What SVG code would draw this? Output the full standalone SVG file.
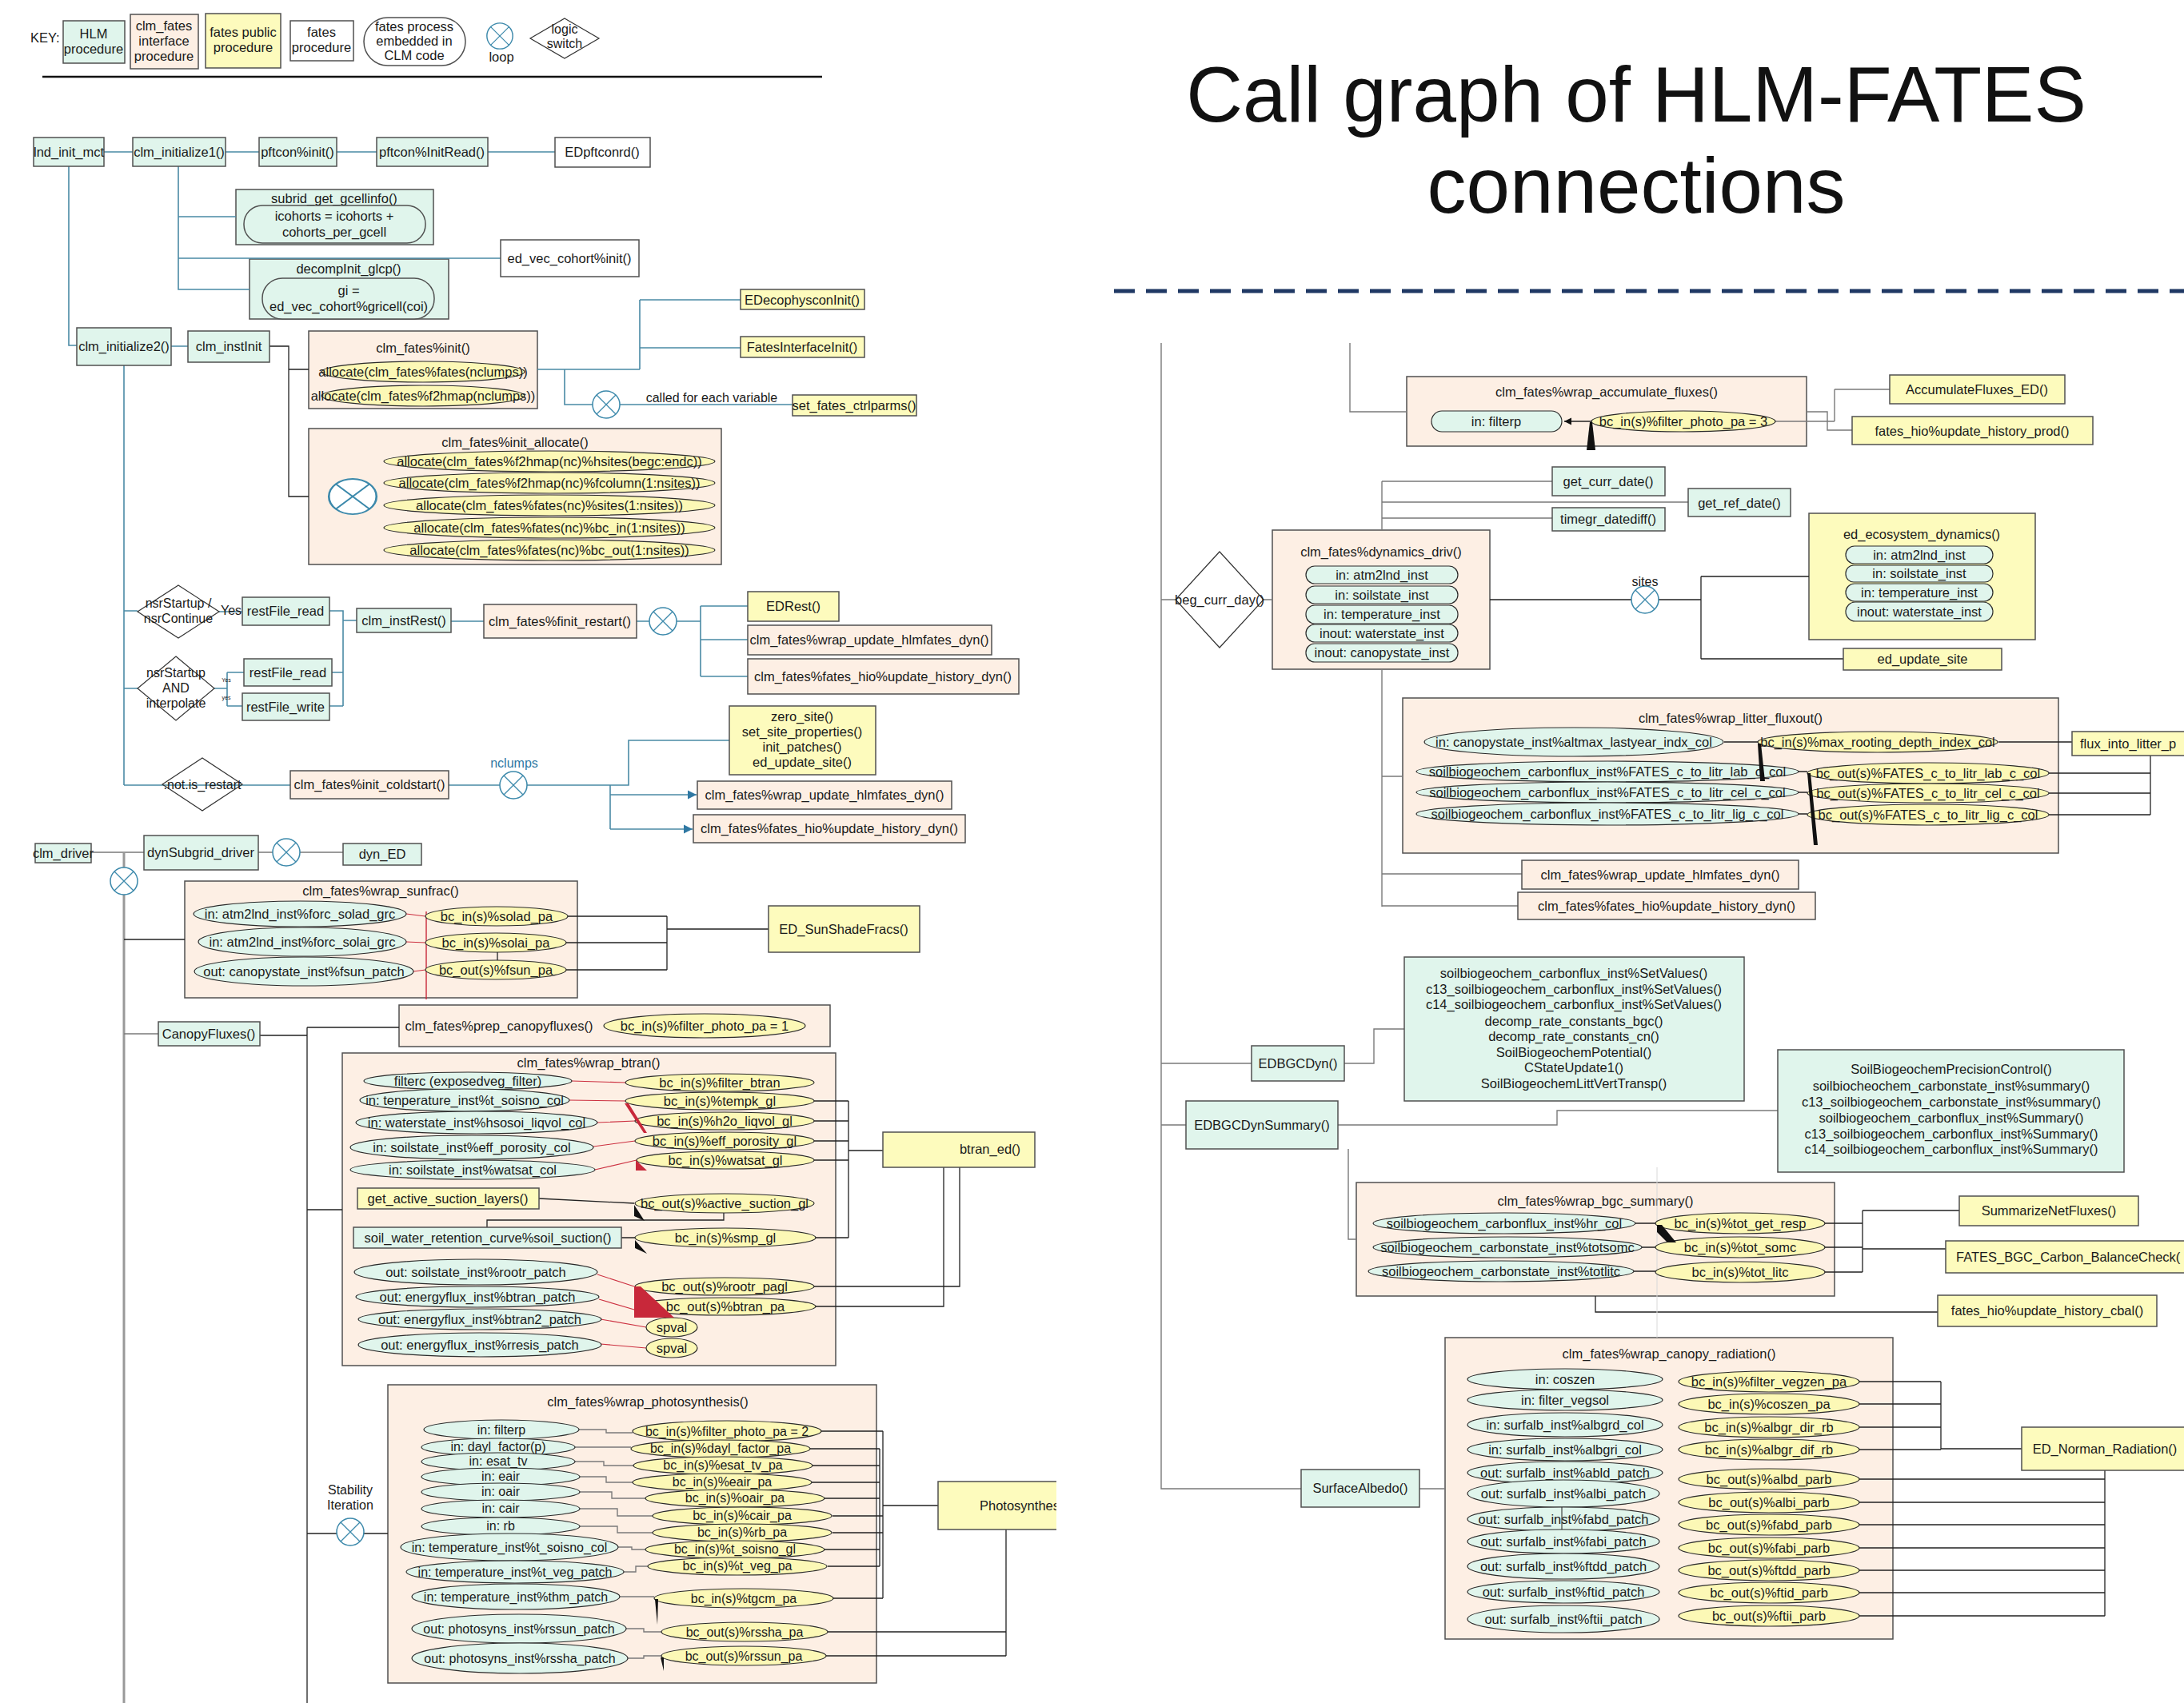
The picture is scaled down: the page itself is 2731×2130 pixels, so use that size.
<svg xmlns="http://www.w3.org/2000/svg" width="2731" height="2130" viewBox="0 0 2731 2130">
<defs>
<style>
text{font-family:"Liberation Sans",Arial,sans-serif;font-size:16.5px;fill:#1a1a1a;text-anchor:middle}
.s{text-anchor:start}
.sm{font-size:16px}
.h{fill:#e0f5ec;stroke:#505050;stroke-width:1.5}
.i{fill:#fdefe4;stroke:#505050;stroke-width:1.5}
.p{fill:#fdfbbd;stroke:#505050;stroke-width:1.5}
.w{fill:#fff;stroke:#505050;stroke-width:1.5}
.em{fill:#e0f5ec;stroke:#2a2a2a;stroke-width:1.2}
.ey{fill:#fcf8b6;stroke:#2a2a2a;stroke-width:1.2}
.dm{fill:none;stroke:#333;stroke-width:1.2}
.t{fill:none;stroke:#4a8aa5;stroke-width:1.6}
.k{fill:none;stroke:#222;stroke-width:1.3}
.g{fill:none;stroke:#7a7a7a;stroke-width:1.4}
.r{fill:none;stroke:#cc3040;stroke-width:1.1}
.rf{fill:#c8283a}
.bf{fill:#111}
</style>
<g id="loop"><circle r="17" fill="#fff" stroke="#3c89ab" stroke-width="1.5"/><path d="M-12,-12L12,12M12,-12L-12,12" stroke="#3c89ab" stroke-width="1.3" fill="none"/></g>
<marker id="ab" viewBox="0 0 10 10" refX="10" refY="5" markerWidth="7" markerHeight="7" orient="auto"><path d="M0,0L10,5L0,10z" fill="#2f78a3"/></marker>
<marker id="ak" viewBox="0 0 10 10" refX="10" refY="5" markerWidth="7" markerHeight="7" orient="auto"><path d="M0,0L10,5L0,10z" fill="#111"/></marker>
<clipPath id="clipL"><rect x="0" y="0" width="1321" height="2130"/></clipPath>
</defs>
<rect x="0" y="0" width="2731" height="2130" fill="#fff"/>

<!-- KEY -->
<g id="key">
<text class="s" x="38" y="53">KEY:</text>
<g id="key-hlm"><rect class="h" x="79" y="26" width="77" height="53"/><text x="117" y="48">HLM</text><text x="117" y="67">procedure</text></g>
<g id="key-itf"><rect class="i" x="163" y="18" width="85" height="68"/><text x="205" y="38">clm_fates</text><text x="205" y="57">interface</text><text x="205" y="76">procedure</text></g>
<g id="key-pub"><rect class="p" x="257" y="17" width="94" height="68"/><text x="304" y="46">fates public</text><text x="304" y="65">procedure</text></g>
<g id="key-fp"><rect class="w" x="363" y="26" width="79" height="50"/><text x="402" y="46">fates</text><text x="402" y="65">procedure</text></g>
<g id="key-emb"><rect class="w" x="455" y="22" width="127" height="60" rx="30"/><text x="518" y="39">fates process</text><text x="518" y="57">embedded in</text><text x="518" y="75">CLM code</text></g>
<g id="key-loop"><use href="#loop" transform="translate(625,45) scale(0.95)"/><text x="627" y="77">loop</text></g>
<g id="key-switch"><path class="dm" d="M706,23L749,48L706,73L663,48Z"/><text x="706" y="42" class="sm">logic</text><text x="706" y="60" class="sm">switch</text></g>
<line x1="53" y1="96" x2="1028" y2="96" stroke="#111" stroke-width="2.5"/>
</g>

<!-- Title -->
<g id="title">
<text x="2046" y="152" style="font-size:98px;fill:#111">Call graph of HLM-FATES</text>
<text x="2046" y="266" style="font-size:98px;fill:#111">connections</text>
<line x1="1393" y1="364" x2="2731" y2="364" stroke="#1f3864" stroke-width="5" stroke-dasharray="26,14"/>
</g>

<!-- containers -->
<g id="subrid_get_gcellinfo"><rect class="h" x="295" y="237" width="247" height="69"/><text x="418" y="254">subrid_get_gcellinfo()</text></g>
<g id="decompInit_glcp"><rect class="h" x="312" y="324" width="249" height="75"/><text x="436" y="342">decompInit_glcp()</text></g>
<g id="clm_fates_init"><rect class="i" x="386" y="414" width="286" height="97"/><text x="529" y="441">clm_fates%init()</text></g>
<g id="clm_fates_init_allocate"><rect class="i" x="386" y="536" width="516" height="170"/><text x="644" y="559">clm_fates%init_allocate()</text></g>
<g id="wrap_sunfrac"><rect class="i" x="231" y="1102" width="491" height="146"/><text x="476" y="1120">clm_fates%wrap_sunfrac()</text></g>
<g id="prep_canopyfluxes"><rect class="i" x="499" y="1257" width="539" height="52"/><text x="624" y="1289">clm_fates%prep_canopyfluxes()</text></g>
<g id="wrap_btran"><rect class="i" x="428" y="1317" width="617" height="391"/><text x="736" y="1335">clm_fates%wrap_btran()</text></g>
<g id="wrap_photosynthesis"><rect class="i" x="485" y="1732" width="611" height="373"/><text x="810" y="1759">clm_fates%wrap_photosynthesis()</text></g>
<g id="wrap_accumulate_fluxes"><rect class="i" x="1759" y="471" width="500" height="87"/><text x="2009" y="496">clm_fates%wrap_accumulate_fluxes()</text></g>
<g id="dynamics_driv"><rect class="i" x="1591" y="663" width="272" height="174"/><text x="1727" y="696">clm_fates%dynamics_driv()</text></g>
<g id="ed_ecosystem_dynamics"><rect class="p" x="2262" y="642" width="283" height="158"/><text x="2403" y="674">ed_ecosystem_dynamics()</text></g>
<g id="wrap_litter_fluxout"><rect class="i" x="1754" y="873" width="820" height="194"/><text x="2164" y="904">clm_fates%wrap_litter_fluxout()</text></g>
<g id="wrap_bgc_summary"><rect class="i" x="1696" y="1479" width="598" height="142"/><text x="1995" y="1508">clm_fates%wrap_bgc_summary()</text></g>
<g id="wrap_canopy_radiation"><rect class="i" x="1807" y="1673" width="560" height="377"/><text x="2087" y="1699">clm_fates%wrap_canopy_radiation()</text></g>

<!-- connectors -->
<g id="connectors">
<path class="t" d="M130,190H166M282,190H324M421,190H471M610,190H694M86,208V432H96M223,208V362H312M223,271H295M223,323H626M214,433H235"/>
<path class="k" d="M337,433H361V621H386M361,462H386"/>
<path class="t" d="M672,462H800M800,375V462M800,375H926M800,435H926M706,462V506H991"/>
<path class="t" d="M155,457V982"/>
<path class="t" d="M155,764H172M274,765H303M155,861H172M267,861H284M284,841V883M284,841H305M284,883H303M412,764H429V883M415,841H429M412,883H429M429,776H446M564,777H605M796,777H876M876,758V846M876,758H935M876,800H935M876,846H935"/>
<path class="t" d="M155,982H363M561,982H786V926H912M763,982V1037"/>
<path class="t" d="M763,994H871" marker-end="url(#ab)"/>
<path class="t" d="M763,1037H866" marker-end="url(#ab)"/>
<path class="g" d="M114,1066H180M323,1066H429"/>
<path d="M155,1066V2130" fill="none" stroke="#999" stroke-width="3"/>
<path class="k" d="M155,1175H231"/>
<path class="r" d="M508,1143L532,1146M508,1178L532,1179M517,1215L532,1213"/>
<path d="M533,1140V1250" stroke="#c8283a" stroke-width="1.4" fill="none"/>
<path class="k" d="M622,1190V1202M710,1146H834M708,1179H834M708,1213H834M834,1146V1213M834,1162H961"/>
<path class="g" d="M155,1293H198"/>
<path class="k" d="M325,1295H384M384,1285V2130M384,1285H499M384,1513H428"/>
<path class="r" d="M715,1352L782,1354M712,1376L782,1377M747,1404L794,1402M742,1434L794,1427M744,1463L796,1451M747,1594L793,1609M749,1625L800,1640M751,1650L808,1660M751,1681L808,1686"/>
<path class="k" d="M674,1499L793,1505M905,1517V1526H609V1535M777,1548H794M1018,1377H1061M1018,1402H1061M1018,1427H1061M1018,1451H1061M1020,1548H1061M1061,1377V1548M1061,1439H1104M1018,1609H1200V1460M1020,1634H1180V1460"/>
<path class="k" d="M384,1918H485"/>
<path class="g" d="M724,1788H758V1792H791M719,1810H789M719,1828H755V1833H792M725,1847H758V1854H791M725,1866H765V1874H807M725,1887H772V1896H816M725,1909H772V1917H816M773,1935H790V1938H807M780,1966H795V1959H810M775,1997H818M783,2037H805V2041H827M785,2074H805V2071H827"/>
<path class="k" d="M1027,1790H1104M1013,1812H1100M1016,1833H1100M1015,1854H1100M1031,1874H1100M1041,1896H1104M1041,1917H1104M1031,1938H1100M1035,1959H1100M1042,1999H1104M1100,1812V1959M1104,1790V1999M1104,1883H1173M1258,1913V2071M1035,2041H1258M1033,2071H1258"/>
<path class="g" d="M1452,429V1862H1627M1688,429V515H1759M1775,1862H1807"/>
<path class="k" d="M1990,527H1956" marker-end="url(#ak)"/>
<path class="g" d="M2220,527H2294M2259,515H2285V538H2316M2294,487V527M2294,487H2363"/>
<path class="g" d="M1728,602V663M1728,837V1134M1728,602H1941M1728,628H2111M1728,648H1941M1452,750H1470M1579,750H1591"/>
<path class="k" d="M1863,750H2127M2127,721V824M2127,721H2262M2127,824H2305"/>
<path class="g" d="M1728,971H1754M1728,1093H1903M1728,1133H1898"/>
<path class="k" d="M2156,928H2198M2248,965H2260M2249,991H2260M2248,1018H2260M2499,928H2591M2689,945V1019M2562,967H2689M2562,992H2689M2562,1019H2689"/>
<path class="g" d="M1452,1330H1565M1681,1330H1718V1287H1756M1452,1407H1483M1673,1407H1947V1389H2223M1686,1437V1550H1696"/>
<path class="k" d="M2045,1530H2070M2053,1560H2070M2043,1590H2070M2281,1530H2329M2281,1560H2329M2281,1591H2329M2329,1514V1591M2329,1514H2450M2329,1562H2433M1995,1621V1641H2423"/>
<path d="M2072,1460V1673" stroke="#d8d8d8" stroke-width="1" fill="none"/>
<path class="k" d="M2325,1728H2427M2325,1756H2427M2325,1785H2427M2325,1813H2427M2427,1728V1813M2427,1812H2528M2632,1839V2021M2325,1850H2632M2325,1879H2632M2325,1907H2632M2325,1936H2632M2325,1964H2632M2325,1992H2632M2325,2021H2632"/>
</g>

<!-- left nodes -->
<g id="lnd_init_mct"><rect class="h" x="42" y="172" width="88" height="36"/><text x="86" y="196">lnd_init_mct</text></g>
<g id="clm_initialize1"><rect class="h" x="166" y="172" width="116" height="36"/><text x="224" y="196">clm_initialize1()</text></g>
<g id="pftcon_init"><rect class="h" x="324" y="172" width="97" height="36"/><text x="372" y="196">pftcon%init()</text></g>
<g id="pftcon_InitRead"><rect class="h" x="471" y="172" width="139" height="36"/><text x="540" y="196">pftcon%InitRead()</text></g>
<g id="EDpftconrd"><rect class="w" x="694" y="172" width="119" height="37"/><text x="753" y="196">EDpftconrd()</text></g>
<g id="icohorts"><rect class="h" x="305" y="257" width="227" height="47" rx="23"/><text x="418" y="276">icohorts = icohorts +</text><text x="418" y="296">cohorts_per_gcell</text></g>
<g id="ed_vec_cohort_init"><rect class="w" x="626" y="300" width="173" height="46"/><text x="712" y="329">ed_vec_cohort%init()</text></g>
<g id="gi"><rect class="h" x="328" y="348" width="215" height="51" rx="25"/><text x="436" y="369">gi =</text><text x="436" y="389">ed_vec_cohort%gricell(coi)</text></g>
<g id="clm_initialize2"><rect class="h" x="96" y="410" width="118" height="47"/><text x="155" y="439">clm_initialize2()</text></g>
<g id="clm_instInit"><rect class="h" x="235" y="414" width="102" height="39"/><text x="286" y="439">clm_instInit</text></g>
<g id="alloc_fates"><ellipse class="ey" cx="529" cy="465" rx="127" ry="13"/><text x="529" y="471">allocate(clm_fates%fates(nclumps))</text></g>
<g id="alloc_f2hmap"><ellipse class="ey" cx="529" cy="495" rx="127" ry="13"/><text x="529" y="501">allocate(clm_fates%f2hmap(nclumps))</text></g>
<g id="EDecophysconInit"><rect class="p" x="926" y="362" width="155" height="25"/><text x="1003" y="381">EDecophysconInit()</text></g>
<g id="FatesInterfaceInit"><rect class="p" x="926" y="421" width="155" height="26"/><text x="1003" y="440">FatesInterfaceInit()</text></g>
<g id="loop_ctrlparms"><use href="#loop" x="758" y="506"/><text x="890" y="503" class="sm">called for each variable</text></g>
<g id="set_fates_ctrlparms"><rect class="p" x="991" y="494" width="155" height="26"/><text x="1068" y="513">set_fates_ctrlparms()</text></g>
<g id="loop_alloc"><use href="#loop" transform="translate(441,621) scale(1.75,1.3)"/></g>
<g id="alloc1"><ellipse class="ey" cx="687" cy="577" rx="207" ry="13"/><text x="687" y="583">allocate(clm_fates%f2hmap(nc)%hsites(begc:endc))</text></g>
<g id="alloc2"><ellipse class="ey" cx="687" cy="604" rx="207" ry="13"/><text x="687" y="610">allocate(clm_fates%f2hmap(nc)%fcolumn(1:nsites))</text></g>
<g id="alloc3"><ellipse class="ey" cx="687" cy="632" rx="207" ry="13"/><text x="687" y="638">allocate(clm_fates%fates(nc)%sites(1:nsites))</text></g>
<g id="alloc4"><ellipse class="ey" cx="687" cy="660" rx="207" ry="13"/><text x="687" y="666">allocate(clm_fates%fates(nc)%bc_in(1:nsites))</text></g>
<g id="alloc5"><ellipse class="ey" cx="687" cy="688" rx="207" ry="13"/><text x="687" y="694">allocate(clm_fates%fates(nc)%bc_out(1:nsites))</text></g>

<g id="sw_nsrStartup"><path class="dm" d="M223,732L274,765L223,798L172,765Z"/><text x="223" y="760" class="sm">nsrStartup /</text><text x="223" y="779" class="sm">nsrContinue</text><text x="289" y="769" class="sm">Yes</text></g>
<g id="restFile_read1"><rect class="h" x="303" y="747" width="109" height="35"/><text x="357" y="770">restFile_read</text></g>
<g id="sw_interpolate"><path class="dm" d="M220,821L268,861L220,901L172,861Z"/><text x="220" y="847" class="sm">nsrStartup</text><text x="220" y="866" class="sm">AND</text><text x="220" y="885" class="sm">interpolate</text><text x="283" y="853" style="font-size:7px">Yes</text><text x="283" y="875" style="font-size:7px">yes</text></g>
<g id="restFile_read2"><rect class="h" x="305" y="824" width="110" height="34"/><text x="360" y="847">restFile_read</text></g>
<g id="restFile_write"><rect class="h" x="303" y="867" width="109" height="34"/><text x="357" y="890">restFile_write</text></g>
<g id="clm_instRest"><rect class="h" x="446" y="761" width="118" height="30"/><text x="505" y="782">clm_instRest()</text></g>
<g id="finit_restart"><rect class="i" x="605" y="756" width="191" height="42"/><text x="700" y="783">clm_fates%finit_restart()</text></g>
<g id="loop_restart"><use href="#loop" x="829" y="777"/></g>
<g id="EDRest"><rect class="p" x="935" y="740" width="114" height="37"/><text x="992" y="764">EDRest()</text></g>
<g id="wrap_update_hlmfates_dyn1"><rect class="i" x="935" y="782" width="305" height="37"/><text x="1087" y="806">clm_fates%wrap_update_hlmfates_dyn()</text></g>
<g id="update_history_dyn1"><rect class="i" x="935" y="824" width="339" height="44"/><text x="1104" y="852">clm_fates%fates_hio%update_history_dyn()</text></g>
<g id="sw_not_restart"><path class="dm" d="M253,948L303,981L253,1014L203,981Z"/><text x="253" y="987" class="sm">.not.is_restart</text></g>
<g id="init_coldstart"><rect class="i" x="363" y="964" width="198" height="35"/><text x="462" y="987">clm_fates%init_coldstart()</text></g>
<g id="loop_nclumps"><use href="#loop" x="642" y="982"/><text x="643" y="960" class="sm" style="fill:#2f78a3">nclumps</text></g>
<g id="zero_site"><rect class="p" x="912" y="883" width="183" height="86"/><text x="1003" y="902">zero_site()</text><text x="1003" y="921">set_site_properties()</text><text x="1003" y="940">init_patches()</text><text x="1003" y="959">ed_update_site()</text></g>
<g id="wrap_update_hlmfates_dyn2"><rect class="i" x="872" y="977" width="318" height="35"/><text x="1031" y="1000">clm_fates%wrap_update_hlmfates_dyn()</text></g>
<g id="update_history_dyn2"><rect class="i" x="867" y="1019" width="340" height="35"/><text x="1037" y="1042">clm_fates%fates_hio%update_history_dyn()</text></g>

<g id="clm_driver"><rect class="h" x="44" y="1055" width="70" height="24"/><text x="79" y="1073">clm_driver</text></g>
<g id="dynSubgrid_driver"><rect class="h" x="180" y="1045" width="143" height="43"/><text x="251" y="1072">dynSubgrid_driver</text></g>
<g id="loop_dyn"><use href="#loop" x="358" y="1066"/></g>
<g id="dyn_ED"><rect class="h" x="429" y="1055" width="98" height="27"/><text x="478" y="1074">dyn_ED</text></g>
<g id="loop_driver"><use href="#loop" x="155" y="1102"/></g>

<g id="sf_in1"><ellipse class="em" cx="375" cy="1143" rx="133" ry="16"/><text x="375" y="1149">in: atm2lnd_inst%forc_solad_grc</text></g>
<g id="sf_in2"><ellipse class="em" cx="378" cy="1178" rx="130" ry="18"/><text x="378" y="1184">in: atm2lnd_inst%forc_solai_grc</text></g>
<g id="sf_out"><ellipse class="em" cx="380" cy="1215" rx="137" ry="18"/><text x="380" y="1221">out: canopystate_inst%fsun_patch</text></g>
<g id="sf_bc1"><ellipse class="ey" cx="621" cy="1146" rx="89" ry="12"/><text x="621" y="1152">bc_in(s)%solad_pa</text></g>
<g id="sf_bc2"><ellipse class="ey" cx="620" cy="1179" rx="88" ry="12"/><text x="620" y="1185">bc_in(s)%solai_pa</text></g>
<g id="sf_bc3"><ellipse class="ey" cx="620" cy="1213" rx="88" ry="12"/><text x="620" y="1219">bc_out(s)%fsun_pa</text></g>
<g id="ED_SunShadeFracs"><rect class="p" x="961" y="1133" width="189" height="58"/><text x="1055" y="1168">ED_SunShadeFracs()</text></g>

<g id="CanopyFluxes"><rect class="h" x="198" y="1278" width="127" height="30"/><text x="261" y="1299">CanopyFluxes()</text></g>
<g id="filter_photo_1"><ellipse class="ey" cx="881" cy="1283" rx="126" ry="15"/><text x="881" y="1289">bc_in(s)%filter_photo_pa = 1</text></g>

<!-- btran -->
<g id="bt_l1"><ellipse class="em" cx="585" cy="1352" rx="130" ry="11"/><text x="585" y="1358">filterc (exposedveg_filter)</text></g>
<g id="bt_l2"><ellipse class="em" cx="581" cy="1376" rx="131" ry="14"/><text x="581" y="1382">in: tenperature_inst%t_soisno_col</text></g>
<g id="bt_l3"><ellipse class="em" cx="596" cy="1404" rx="151" ry="14"/><text x="596" y="1410">in: waterstate_inst%hsosoi_liqvol_col</text></g>
<g id="bt_l4"><ellipse class="em" cx="590" cy="1435" rx="152" ry="15"/><text x="590" y="1441">in: soilstate_inst%eff_porosity_col</text></g>
<g id="bt_l5"><ellipse class="em" cx="591" cy="1463" rx="153" ry="12"/><text x="591" y="1469">in: soilstate_inst%watsat_col</text></g>
<g id="bt_r1"><ellipse class="ey" cx="900" cy="1354" rx="118" ry="11"/><text x="900" y="1360">bc_in(s)%filter_btran</text></g>
<g id="bt_r2"><ellipse class="ey" cx="900" cy="1377" rx="118" ry="11"/><text x="900" y="1383">bc_in(s)%tempk_gl</text></g>
<g id="bt_r3"><ellipse class="ey" cx="906" cy="1402" rx="112" ry="11"/><text x="906" y="1408">bc_in(s)%h2o_liqvol_gl</text></g>
<g id="bt_r4"><ellipse class="ey" cx="906" cy="1427" rx="112" ry="11"/><text x="906" y="1433">bc_in(s)%eff_porosity_gl</text></g>
<g id="bt_r5"><ellipse class="ey" cx="907" cy="1451" rx="111" ry="11"/><text x="907" y="1457">bc_in(s)%watsat_gl</text></g>
<g id="get_active_suction_layers"><rect class="p" x="447" y="1486" width="227" height="26"/><text x="560" y="1505">get_active_suction_layers()</text></g>
<g id="bt_r6"><ellipse class="ey" cx="906" cy="1505" rx="112" ry="12"/><text x="906" y="1511">bc_out(s)%active_suction_gl</text></g>
<g id="soil_suction"><rect class="h" x="442" y="1535" width="335" height="26"/><text x="610" y="1554">soil_water_retention_curve%soil_suction()</text></g>
<g id="bt_r7"><ellipse class="ey" cx="907" cy="1548" rx="113" ry="12"/><text x="907" y="1554">bc_in(s)%smp_gl</text></g>
<g id="bt_l6"><ellipse class="em" cx="595" cy="1591" rx="152" ry="16"/><text x="595" y="1597">out: soilstate_inst%rootr_patch</text></g>
<g id="bt_l7"><ellipse class="em" cx="597" cy="1622" rx="152" ry="13"/><text x="597" y="1628">out: energyflux_inst%btran_patch</text></g>
<g id="bt_l8"><ellipse class="em" cx="600" cy="1650" rx="152" ry="13"/><text x="600" y="1656">out: energyflux_inst%btran2_patch</text></g>
<g id="bt_l9"><ellipse class="em" cx="600" cy="1682" rx="152" ry="15"/><text x="600" y="1688">out: energyflux_inst%rresis_patch</text></g>
<g id="bt_r8"><ellipse class="ey" cx="906" cy="1609" rx="112" ry="11"/><text x="906" y="1615">bc_out(s)%rootr_pagl</text></g>
<g id="bt_r9"><ellipse class="ey" cx="907" cy="1634" rx="113" ry="11"/><text x="907" y="1640">bc_out(s)%btran_pa</text></g>
<g id="bt_spval1"><ellipse class="ey" cx="840" cy="1660" rx="32" ry="12"/><text x="840" y="1666">spval</text></g>
<g id="bt_spval2"><ellipse class="ey" cx="840" cy="1686" rx="32" ry="12"/><text x="840" y="1692">spval</text></g>
<g id="bt_heads"><path class="rf" d="M781,1380L786,1380L809,1417L805,1417ZM795,1451L795,1464L809,1464ZM793,1609L801,1609L843,1648L793,1648Z"/><path class="bf" d="M793,1507L793,1521L806,1527ZM794,1551L794,1561L809,1568Z"/></g>
<g id="btran_ed"><rect class="p" x="1104" y="1416" width="190" height="44"/><text x="1238" y="1443">btran_ed()</text></g>

<!-- photosynthesis -->
<g id="loop_stability"><use href="#loop" x="438" y="1916"/><text x="438" y="1869" class="sm">Stability</text><text x="438" y="1888" class="sm">Iteration</text></g>
<g id="ps_l1"><ellipse class="em" cx="627" cy="1788" rx="97" ry="12"/><text x="627" y="1794" class="sm">in: filterp</text></g>
<g id="ps_l2"><ellipse class="em" cx="623" cy="1810" rx="96" ry="11"/><text x="623" y="1815" class="sm">in: dayl_factor(p)</text></g>
<g id="ps_l3"><ellipse class="em" cx="623" cy="1828" rx="96" ry="11"/><text x="623" y="1833" class="sm">in: esat_tv</text></g>
<g id="ps_l4"><ellipse class="em" cx="626" cy="1847" rx="99" ry="11"/><text x="626" y="1852" class="sm">in: eair</text></g>
<g id="ps_l5"><ellipse class="em" cx="626" cy="1866" rx="99" ry="11"/><text x="626" y="1871" class="sm">in: oair</text></g>
<g id="ps_l6"><ellipse class="em" cx="626" cy="1887" rx="99" ry="11"/><text x="626" y="1892" class="sm">in: cair</text></g>
<g id="ps_l7"><ellipse class="em" cx="626" cy="1909" rx="99" ry="11"/><text x="626" y="1914" class="sm">in: rb</text></g>
<g id="ps_l8"><ellipse class="em" cx="637" cy="1935" rx="136" ry="17"/><text x="637" y="1941" class="sm">in: temperature_inst%t_soisno_col</text></g>
<g id="ps_l9"><ellipse class="em" cx="644" cy="1966" rx="136" ry="14"/><text x="644" y="1972" class="sm">in:  temperature_inst%t_veg_patch</text></g>
<g id="ps_l10"><ellipse class="em" cx="645" cy="1997" rx="130" ry="16"/><text x="645" y="2003" class="sm">in:  temperature_inst%thm_patch</text></g>
<g id="ps_l11"><ellipse class="em" cx="649" cy="2037" rx="134" ry="18"/><text x="649" y="2043" class="sm">out: photosyns_inst%rssun_patch</text></g>
<g id="ps_l12"><ellipse class="em" cx="650" cy="2074" rx="135" ry="19"/><text x="650" y="2080" class="sm">out: photosyns_inst%rssha_patch</text></g>
<g id="ps_r1"><ellipse class="ey" cx="909" cy="1790" rx="118" ry="13"/><text x="909" y="1796" class="sm">bc_in(s)%filter_photo_pa = 2</text></g>
<g id="ps_r2"><ellipse class="ey" cx="901" cy="1812" rx="112" ry="11"/><text x="901" y="1817" class="sm">bc_in(s)%dayl_factor_pa</text></g>
<g id="ps_r3"><ellipse class="ey" cx="904" cy="1833" rx="112" ry="11"/><text x="904" y="1838" class="sm">bc_in(s)%esat_tv_pa</text></g>
<g id="ps_r4"><ellipse class="ey" cx="903" cy="1854" rx="112" ry="11"/><text x="903" y="1859" class="sm">bc_in(s)%eair_pa</text></g>
<g id="ps_r5"><ellipse class="ey" cx="919" cy="1874" rx="112" ry="11"/><text x="919" y="1879" class="sm">bc_in(s)%oair_pa</text></g>
<g id="ps_r6"><ellipse class="ey" cx="928" cy="1896" rx="112" ry="11"/><text x="928" y="1901" class="sm">bc_in(s)%cair_pa</text></g>
<g id="ps_r7"><ellipse class="ey" cx="928" cy="1917" rx="112" ry="11"/><text x="928" y="1922" class="sm">bc_in(s)%rb_pa</text></g>
<g id="ps_r8"><ellipse class="ey" cx="919" cy="1938" rx="112" ry="11"/><text x="919" y="1943" class="sm">bc_in(s)%t_soisno_gl</text></g>
<g id="ps_r9"><ellipse class="ey" cx="922" cy="1959" rx="112" ry="11"/><text x="922" y="1964" class="sm">bc_in(s)%t_veg_pa</text></g>
<g id="ps_r10"><ellipse class="ey" cx="930" cy="1999" rx="112" ry="12"/><text x="930" y="2005" class="sm">bc_in(s)%tgcm_pa</text></g>
<g id="ps_r11"><ellipse class="ey" cx="931" cy="2041" rx="104" ry="12"/><text x="931" y="2047" class="sm">bc_out(s)%rssha_pa</text></g>
<g id="ps_r12"><ellipse class="ey" cx="930" cy="2071" rx="103" ry="12"/><text x="930" y="2077" class="sm">bc_out(s)%rssun_pa</text></g>
<g id="ps_heads"><path class="bf" d="M819,2000L823,2000L822,2032ZM826,2073L830,2073L830,2090Z"/></g>
<g id="Photosynthesis" clip-path="url(#clipL)"><rect class="p" x="1173" y="1853" width="180" height="60"/><text x="1225" y="1889" class="s">Photosynthes</text></g>

<!-- right nodes -->
<g id="in_filterp"><rect class="em" x="1790" y="514" width="163" height="26" rx="13"/><text x="1871" y="533">in: filterp</text></g>
<g id="filter_photo_3"><ellipse class="ey" cx="2105" cy="527" rx="115" ry="13"/><text x="2105" y="533">bc_in(s)%filter_photo_pa = 3</text></g>
<g id="acc_head"><path class="bf" d="M1988,528L1991,528L1995,563L1984,563Z"/></g>
<g id="AccumulateFluxes_ED"><rect class="p" x="2363" y="469" width="219" height="36"/><text x="2472" y="493">AccumulateFluxes_ED()</text></g>
<g id="update_history_prod"><rect class="p" x="2316" y="521" width="301" height="35"/><text x="2466" y="545">fates_hio%update_history_prod()</text></g>
<g id="get_curr_date"><rect class="h" x="1941" y="584" width="141" height="36"/><text x="2011" y="608">get_curr_date()</text></g>
<g id="get_ref_date"><rect class="h" x="2111" y="611" width="128" height="35"/><text x="2175" y="635">get_ref_date()</text></g>
<g id="timegr_datediff"><rect class="h" x="1941" y="635" width="141" height="29"/><text x="2011" y="655">timegr_datediff()</text></g>
<g id="sw_beg_curr_day"><path class="dm" d="M1525,690L1580,750L1525,810L1470,750Z"/><text x="1525" y="756">beg_curr_day()</text></g>
<g id="dd1"><rect class="em" x="1633" y="708" width="190" height="22" rx="11"/><text x="1728" y="725">in: atm2lnd_inst</text></g>
<g id="dd2"><rect class="em" x="1633" y="733" width="190" height="22" rx="11"/><text x="1728" y="750">in: soilstate_inst</text></g>
<g id="dd3"><rect class="em" x="1633" y="757" width="190" height="23" rx="11"/><text x="1728" y="774">in: temperature_inst</text></g>
<g id="dd4"><rect class="em" x="1633" y="781" width="190" height="22" rx="11"/><text x="1728" y="798">inout: waterstate_inst</text></g>
<g id="dd5"><rect class="em" x="1633" y="805" width="190" height="23" rx="11"/><text x="1728" y="822">inout: canopystate_inst</text></g>
<g id="loop_sites"><use href="#loop" x="2057" y="750"/><text x="2057" y="733" class="sm">sites</text></g>
<g id="ee1"><rect class="em" x="2308" y="683" width="184" height="22" rx="11"/><text x="2400" y="700">in: atm2lnd_inst</text></g>
<g id="ee2"><rect class="em" x="2308" y="707" width="184" height="21" rx="10"/><text x="2400" y="723">in: soilstate_inst</text></g>
<g id="ee3"><rect class="em" x="2308" y="730" width="184" height="22" rx="11"/><text x="2400" y="747">in: temperature_inst</text></g>
<g id="ee4"><rect class="em" x="2308" y="753" width="184" height="24" rx="12"/><text x="2400" y="771">inout: waterstate_inst</text></g>
<g id="ed_update_site"><rect class="p" x="2305" y="811" width="198" height="27"/><text x="2404" y="830">ed_update_site</text></g>

<g id="lf_in"><ellipse class="em" cx="1968" cy="928" rx="187" ry="18"/><text x="1968" y="934">in: canopystate_inst%altmax_lastyear_indx_col</text></g>
<g id="lf_bc"><ellipse class="ey" cx="2348" cy="928" rx="150" ry="13"/><text x="2348" y="934">bc_in(s)%max_rooting_depth_index_col</text></g>
<g id="lf_l1"><ellipse class="em" cx="2010" cy="965" rx="239" ry="13"/><text x="2010" y="971">soilbiogeochem_carbonflux_inst%FATES_c_to_litr_lab_c_col</text></g>
<g id="lf_l2"><ellipse class="em" cx="2010" cy="991" rx="239" ry="13"/><text x="2010" y="997">soilbiogeochem_carbonflux_inst%FATES_c_to_litr_cel_c_col</text></g>
<g id="lf_l3"><ellipse class="em" cx="2010" cy="1018" rx="239" ry="14"/><text x="2010" y="1024">soilbiogeochem_carbonflux_inst%FATES_c_to_litr_lig_c_col</text></g>
<g id="lf_r1"><ellipse class="ey" cx="2411" cy="967" rx="151" ry="13"/><text x="2411" y="973">bc_out(s)%FATES_c_to_litr_lab_c_col</text></g>
<g id="lf_r2"><ellipse class="ey" cx="2411" cy="992" rx="151" ry="12"/><text x="2411" y="998">bc_out(s)%FATES_c_to_litr_cel_c_col</text></g>
<g id="lf_r3"><ellipse class="ey" cx="2411" cy="1019" rx="151" ry="13"/><text x="2411" y="1025">bc_out(s)%FATES_c_to_litr_lig_c_col</text></g>
<g id="lf_heads"><path class="bf" d="M2198,930L2202,930L2207,977L2201,977ZM2260,967L2264,967L2273,1057L2268,1057Z"/></g>
<g id="flux_into_litter"><rect class="p" x="2591" y="915" width="160" height="30"/><text x="2601" y="936" class="s">flux_into_litter_p</text></g>
<g id="wrap_update_hlmfates_dyn3"><rect class="i" x="1903" y="1076" width="346" height="36"/><text x="2076" y="1100">clm_fates%wrap_update_hlmfates_dyn()</text></g>
<g id="update_history_dyn3"><rect class="i" x="1898" y="1116" width="372" height="34"/><text x="2084" y="1139">clm_fates%fates_hio%update_history_dyn()</text></g>

<g id="EDBGCDyn"><rect class="h" x="1565" y="1308" width="116" height="44"/><text x="1623" y="1336">EDBGCDyn()</text></g>
<g id="bgc_calls"><rect class="h" x="1756" y="1197" width="425" height="180"/>
<text x="1968" y="1223">soilbiogeochem_carbonflux_inst%SetValues()</text>
<text x="1968" y="1243">c13_soilbiogeochem_carbonflux_inst%SetValues()</text>
<text x="1968" y="1262">c14_soilbiogeochem_carbonflux_inst%SetValues()</text>
<text x="1968" y="1283">decomp_rate_constants_bgc()</text>
<text x="1968" y="1302">decomp_rate_constants_cn()</text>
<text x="1968" y="1322">SoilBiogeochemPotential()</text>
<text x="1968" y="1341">CStateUpdate1()</text>
<text x="1968" y="1361">SoilBiogeochemLittVertTransp()</text></g>
<g id="EDBGCDynSummary"><rect class="h" x="1483" y="1377" width="190" height="60"/><text x="1578" y="1413">EDBGCDynSummary()</text></g>
<g id="summary_calls"><rect class="h" x="2223" y="1313" width="433" height="153"/>
<text x="2440" y="1343">SoilBiogeochemPrecisionControl()</text>
<text x="2440" y="1364">soilbiocheochem_carbonstate_inst%summary()</text>
<text x="2440" y="1384">c13_soilbiogeochem_carbonstate_inst%summary()</text>
<text x="2440" y="1404">soilbiogeochem_carbonflux_inst%Summary()</text>
<text x="2440" y="1424">c13_soilbiogeochem_carbonflux_inst%Summary()</text>
<text x="2440" y="1443">c14_soilbiogeochem_carbonflux_inst%Summary()</text></g>
<g id="bs_l1"><ellipse class="em" cx="1881" cy="1530" rx="164" ry="13"/><text x="1881" y="1536">soilbiogeochem_carbonflux_inst%hr_col</text></g>
<g id="bs_l2"><ellipse class="em" cx="1885" cy="1560" rx="168" ry="13"/><text x="1885" y="1566">soilbiogeochem_carbonstate_inst%totsomc</text></g>
<g id="bs_l3"><ellipse class="em" cx="1877" cy="1590" rx="166" ry="13"/><text x="1877" y="1596">soilbiogeochem_carbonstate_inst%totlitc</text></g>
<g id="bs_r1"><ellipse class="ey" cx="2176" cy="1530" rx="106" ry="13"/><text x="2176" y="1536">bc_in(s)%tot_get_resp</text></g>
<g id="bs_r2"><ellipse class="ey" cx="2176" cy="1560" rx="106" ry="13"/><text x="2176" y="1566">bc_in(s)%tot_somc</text></g>
<g id="bs_r3"><ellipse class="ey" cx="2176" cy="1591" rx="106" ry="13"/><text x="2176" y="1597">bc_in(s)%tot_litc</text></g>
<g id="bs_head"><path class="bf" d="M2072,1532L2078,1532L2096,1554L2085,1554L2072,1541Z"/></g>
<g id="SummarizeNetFluxes"><rect class="p" x="2450" y="1496" width="224" height="37"/><text x="2562" y="1520">SummarizeNetFluxes()</text></g>
<g id="FATES_BGC_Carbon_BalanceCheck"><rect class="p" x="2433" y="1552" width="310" height="40"/><text x="2446" y="1578" class="s">FATES_BGC_Carbon_BalanceCheck(</text></g>
<g id="update_history_cbal"><rect class="p" x="2423" y="1620" width="274" height="39"/><text x="2560" y="1645">fates_hio%update_history_cbal()</text></g>

<g id="SurfaceAlbedo"><rect class="h" x="1627" y="1838" width="148" height="47"/><text x="1701" y="1867">SurfaceAlbedo()</text></g>
<g id="cr_l1"><ellipse class="em" cx="1957" cy="1725" rx="122" ry="13"/><text x="1957" y="1731">in: coszen</text></g>
<g id="cr_l2"><ellipse class="em" cx="1957" cy="1751" rx="122" ry="13"/><text x="1957" y="1757">in: filter_vegsol</text></g>
<g id="cr_l3"><ellipse class="em" cx="1957" cy="1782" rx="122" ry="15"/><text x="1957" y="1788">in: surfalb_inst%albgrd_col</text></g>
<g id="cr_l4"><ellipse class="em" cx="1957" cy="1813" rx="122" ry="14"/><text x="1957" y="1819">in: surfalb_inst%albgri_col</text></g>
<g id="cr_l5"><ellipse class="em" cx="1957" cy="1842" rx="122" ry="14"/><text x="1957" y="1848">out: surfalb_inst%abld_patch</text></g>
<g id="cr_l6"><ellipse class="em" cx="1955" cy="1868" rx="120" ry="17"/><text x="1955" y="1874">out: surfalb_inst%albi_patch</text></g>
<g id="cr_l7"><ellipse class="em" cx="1955" cy="1900" rx="120" ry="15"/><text x="1955" y="1906">out: surfalb_inst%fabd_patch</text><line x1="1953" y1="1885" x2="1953" y2="1913" stroke="#222" stroke-width="1"/></g>
<g id="cr_l8"><ellipse class="em" cx="1955" cy="1928" rx="120" ry="15"/><text x="1955" y="1934">out: surfalb_inst%fabi_patch</text></g>
<g id="cr_l9"><ellipse class="em" cx="1955" cy="1959" rx="120" ry="16"/><text x="1955" y="1965">out: surfalb_inst%ftdd_patch</text></g>
<g id="cr_l10"><ellipse class="em" cx="1955" cy="1991" rx="120" ry="14"/><text x="1955" y="1997">out: surfalb_inst%ftid_patch</text></g>
<g id="cr_l11"><ellipse class="em" cx="1955" cy="2025" rx="120" ry="17"/><text x="1955" y="2031">out: surfalb_inst%ftii_patch</text></g>
<g id="cr_r1"><ellipse class="ey" cx="2212" cy="1728" rx="113" ry="13"/><text x="2212" y="1734">bc_in(s)%filter_vegzen_pa</text></g>
<g id="cr_r2"><ellipse class="ey" cx="2212" cy="1756" rx="113" ry="13"/><text x="2212" y="1762">bc_in(s)%coszen_pa</text></g>
<g id="cr_r3"><ellipse class="ey" cx="2212" cy="1785" rx="113" ry="13"/><text x="2212" y="1791">bc_in(s)%albgr_dir_rb</text></g>
<g id="cr_r4"><ellipse class="ey" cx="2212" cy="1813" rx="113" ry="13"/><text x="2212" y="1819">bc_in(s)%albgr_dif_rb</text></g>
<g id="cr_r5"><ellipse class="ey" cx="2212" cy="1850" rx="113" ry="13"/><text x="2212" y="1856">bc_out(s)%albd_parb</text></g>
<g id="cr_r6"><ellipse class="ey" cx="2212" cy="1879" rx="113" ry="13"/><text x="2212" y="1885">bc_out(s)%albi_parb</text></g>
<g id="cr_r7"><ellipse class="ey" cx="2212" cy="1907" rx="113" ry="13"/><text x="2212" y="1913">bc_out(s)%fabd_parb</text></g>
<g id="cr_r8"><ellipse class="ey" cx="2212" cy="1936" rx="113" ry="13"/><text x="2212" y="1942">bc_out(s)%fabi_parb</text></g>
<g id="cr_r9"><ellipse class="ey" cx="2212" cy="1964" rx="113" ry="13"/><text x="2212" y="1970">bc_out(s)%ftdd_parb</text></g>
<g id="cr_r10"><ellipse class="ey" cx="2212" cy="1992" rx="113" ry="13"/><text x="2212" y="1998">bc_out(s)%ftid_parb</text></g>
<g id="cr_r11"><ellipse class="ey" cx="2212" cy="2021" rx="113" ry="13"/><text x="2212" y="2027">bc_out(s)%ftii_parb</text></g>
<g id="ED_Norman_Radiation"><rect class="p" x="2528" y="1785" width="210" height="54"/><text x="2632" y="1818">ED_Norman_Radiation()</text></g>
</svg>
